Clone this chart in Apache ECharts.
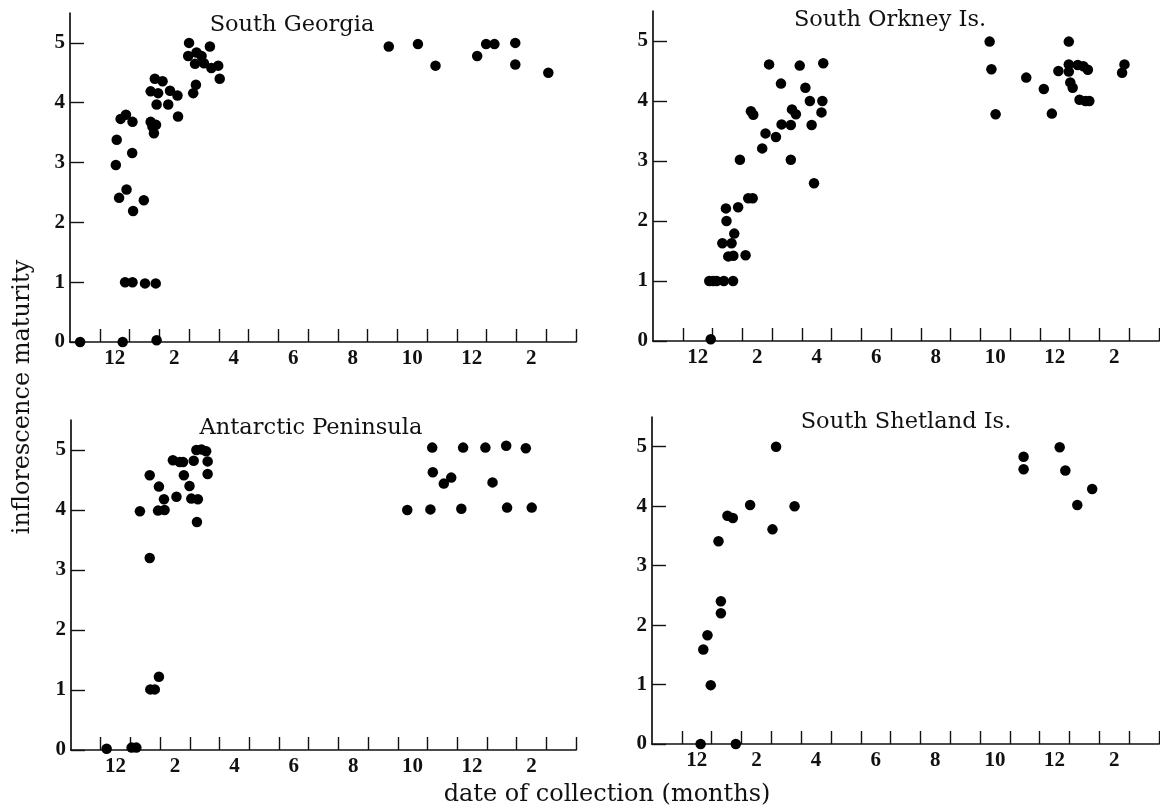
<!DOCTYPE html>
<html>
<head>
<meta charset="utf-8">
<script src="https://cdn.jsdelivr.net/npm/echarts@6/dist/echarts.min.js"></script>
<style>
  html, body { margin: 0; padding: 0; background: #fff; }
  #main { width: 1160px; height: 811px; }
</style>
</head>
<body>
<div id="main"></div>
<script>
// x = month index, integer = middle of the month (12 = Dec, 13 = Jan, ... 24 = Dec, 26 = Feb)
var panelTitles = ['South Georgia', 'South Orkney Is.', 'Antarctic Peninsula', 'South Shetland Is.'];
var monthLabels = [12, 14, 16, 18, 20, 22, 24, 26];
var yTicks = [0, 1, 2, 3, 4, 5];

var southGeorgia = [
  [10.84, 0], [12.27, 0], [13.41, 0.03],
  [12.04, 2.96], [12.07, 3.38], [12.15, 2.41], [12.2, 3.73], [12.38, 3.8], [12.4, 2.55],
  [12.6, 3.68], [12.59, 3.16], [12.62, 2.19], [12.98, 2.37],
  [12.35, 1], [12.6, 1], [13.02, 0.98], [13.38, 0.98],
  [13.21, 4.19], [13.46, 4.16], [13.35, 4.4], [13.61, 4.36], [13.41, 3.97], [13.8, 3.97],
  [13.86, 4.2], [14.11, 4.12], [14.13, 3.77], [13.21, 3.68], [13.27, 3.6], [13.32, 3.49], [13.39, 3.63],
  [14.5, 5.0], [14.47, 4.78], [14.75, 4.84], [14.92, 4.78], [14.7, 4.65], [15.0, 4.66],
  [15.2, 4.94], [15.25, 4.58], [15.48, 4.62], [15.53, 4.4], [14.73, 4.3], [14.64, 4.16],
  [21.21, 4.94], [22.19, 4.98], [22.78, 4.62], [24.18, 4.78], [24.48, 4.98], [24.76, 4.98],
  [25.46, 5.0], [25.46, 4.64], [26.57, 4.5]
];

var southOrkney = [
  [12.44, 0.03],
  [12.39, 1], [12.52, 1], [12.64, 1], [12.88, 1], [13.19, 1],
  [12.83, 1.63], [13.14, 1.63], [13.03, 1.41], [13.2, 1.42], [13.23, 1.79], [12.97, 2.0],
  [12.95, 2.21], [13.36, 2.23], [13.61, 1.43], [13.42, 3.02], [13.7, 2.38], [13.85, 2.38],
  [13.79, 3.83], [13.87, 3.77], [14.17, 3.21], [14.28, 3.46], [14.4, 4.61], [14.63, 3.4],
  [14.8, 4.29], [14.82, 3.61], [15.13, 3.6], [15.13, 3.02], [15.17, 3.86], [15.3, 3.78],
  [15.43, 4.59], [15.62, 4.22], [15.77, 4.0], [15.83, 3.6], [15.91, 2.63], [16.16, 3.81],
  [16.19, 4.0], [16.22, 4.63],
  [21.81, 4.99], [21.87, 4.53], [22.01, 3.78], [23.04, 4.39], [23.63, 4.2], [23.9, 3.79],
  [24.12, 4.5], [24.47, 4.99], [24.47, 4.61], [24.47, 4.49], [24.52, 4.31], [24.6, 4.22],
  [24.77, 4.6], [24.96, 4.58], [25.11, 4.52], [24.83, 4.02], [25.03, 4.0], [25.16, 4.0],
  [26.34, 4.61], [26.26, 4.47]
];

var antarcticPeninsula = [
  [11.7, 0.02], [12.54, 0.04], [12.7, 0.04],
  [12.82, 3.98], [13.15, 4.58], [13.15, 3.2], [13.17, 1.01], [13.32, 1.01], [13.46, 1.22],
  [13.46, 4.39], [13.43, 3.99], [13.65, 4.0], [13.63, 4.18], [13.93, 4.83], [14.05, 4.22],
  [14.16, 4.8], [14.27, 4.8], [14.3, 4.58], [14.49, 4.4], [14.55, 4.19], [14.63, 4.82],
  [14.72, 5.0], [14.77, 4.18], [14.74, 3.8], [14.89, 5.01], [15.05, 4.98], [15.1, 4.81], [15.1, 4.6],
  [22.66, 5.04], [23.7, 5.04], [24.45, 5.04], [25.15, 5.07], [25.81, 5.03],
  [22.68, 4.63], [23.3, 4.54], [23.05, 4.44], [24.69, 4.46],
  [21.82, 4.0], [22.6, 4.01], [23.64, 4.02], [25.18, 4.04], [26.01, 4.04]
];

var southShetland = [
  [12.13, 0], [13.31, 0], [12.22, 1.59], [12.36, 1.83], [12.47, 0.99], [12.73, 3.41],
  [12.81, 2.4], [12.81, 2.2], [13.03, 3.84], [13.21, 3.8], [13.79, 4.02], [14.54, 3.61],
  [14.66, 5.0], [15.28, 4.0],
  [22.96, 4.83], [22.96, 4.62], [24.17, 4.99], [24.36, 4.6], [25.26, 4.29], [24.76, 4.02]
];

var panelData = [southGeorgia, southOrkney, antarcticPeninsula, southShetland];

// month boundaries carry the ticks, the labels sit in the middle of the month
var monthEdges = [];
for (var m = 11.5; m <= 27.5; m += 1) monthEdges.push(m);

var grids = [
  { left: 70, top: 13, width: 506, height: 329 },
  { left: 653, top: 11, width: 506, height: 330 },
  { left: 71, top: 420, width: 505, height: 330 },
  { left: 652, top: 417, width: 507, height: 327 }
];
var titlePos = [[292, 25], [890, 20], [311, 428], [906, 422]];

var serif = '"DejaVu Serif", serif';
var digits = '"Liberation Serif", serif';
var axisLine = { lineStyle: { color: '#111', width: 1.7 } };

var xAxes = [], yAxes = [], series = [], texts = [];
grids.forEach(function (g, i) {
  xAxes.push({
    type: 'value', gridIndex: i, min: 10.5, max: 27.5,
    axisLine: axisLine,
    splitLine: { show: false },
    axisTick: { inside: true, length: 13, customValues: monthEdges, lineStyle: { color: '#111', width: 1.4 } },
    axisLabel: {
      customValues: monthLabels, margin: 6, color: '#111',
      fontFamily: digits, fontWeight: 'bold', fontSize: 21,
      formatter: function (v) { return String((v - 1) % 12 + 1); }
    }
  });
  yAxes.push({
    type: 'value', gridIndex: i, min: 0, max: 5.5,
    axisLine: axisLine,
    splitLine: { show: false },
    axisTick: { inside: true, length: 14, customValues: yTicks, lineStyle: { color: '#111', width: 1.4 } },
    axisLabel: {
      customValues: yTicks, margin: 5, color: '#111',
      fontFamily: digits, fontWeight: 'bold', fontSize: 21
    }
  });
  series.push({
    type: 'scatter', xAxisIndex: i, yAxisIndex: i,
    data: panelData[i], symbolSize: 10.5, clip: false,
    itemStyle: { color: '#000', opacity: 1 }
  });
  texts.push({
    type: 'text', x: titlePos[i][0], y: titlePos[i][1],
    style: { text: panelTitles[i], font: '22.5px ' + serif, fill: '#111', textAlign: 'center', textVerticalAlign: 'middle' }
  });
});

texts.push({
  type: 'text', x: 23, y: 397, rotation: Math.PI / 2,
  style: { text: 'inflorescence maturity', font: '24px ' + serif, fill: '#111', textAlign: 'center', textVerticalAlign: 'middle' }
});
texts.push({
  type: 'text', x: 607, y: 795,
  style: { text: 'date of collection (months)', font: '24px ' + serif, fill: '#111', textAlign: 'center', textVerticalAlign: 'middle' }
});

var chart = echarts.init(document.getElementById('main'));
chart.setOption({
  animation: false,
  backgroundColor: '#fff',
  grid: grids,
  xAxis: xAxes,
  yAxis: yAxes,
  series: series,
  graphic: texts
});
</script>
</body>
</html>
